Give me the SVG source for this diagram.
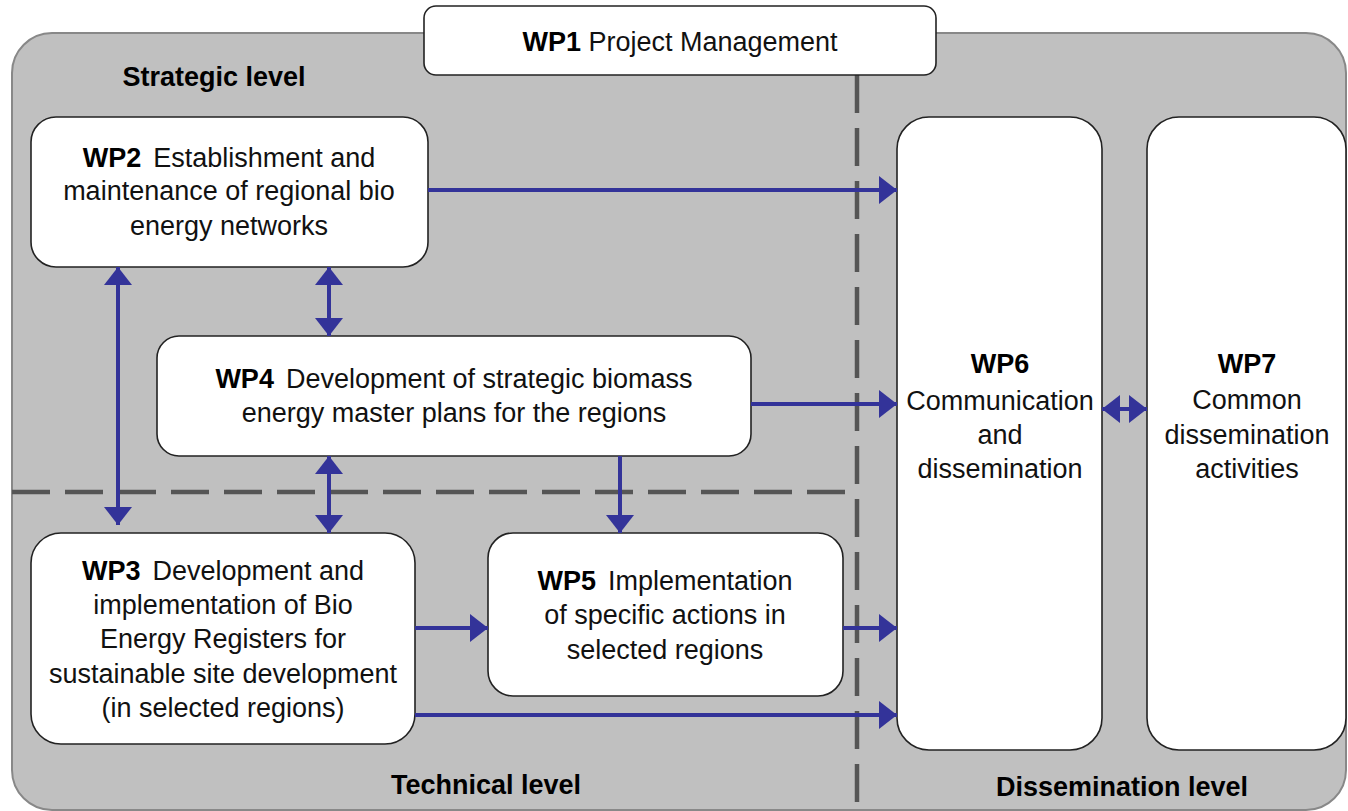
<svg xmlns="http://www.w3.org/2000/svg" width="1348" height="811" viewBox="0 0 1348 811">
<style>
text{font-family:"Liberation Sans",Arial,sans-serif;font-size:27px;fill:#111;text-anchor:middle}
.b{font-weight:bold;fill:#000}
.box{fill:#fff;stroke:#222;stroke-width:1.6}
.dash{stroke:#555;stroke-width:4.5;fill:none;stroke-dasharray:38 15}
.arr{stroke:#333399;stroke-width:4;fill:none}
</style>
<defs>
<marker id="ah" markerUnits="userSpaceOnUse" markerWidth="18" markerHeight="28" refX="18" refY="14" orient="auto-start-reverse" viewBox="0 0 18 28">
<path d="M0,0 L18,14 L0,28 z" fill="#333399"/>
</marker>
</defs>
<rect id="background" x="12" y="33" width="1334" height="777" rx="40" fill="#c0c0c0" stroke="#888" stroke-width="2"/>
<g id="dividers">
<line class="dash" x1="857" y1="75" x2="857" y2="811"/>
<line class="dash" x1="12" y1="492" x2="857" y2="492"/>
</g>
<g id="labels">
<text class="b" x="214" y="86">Strategic level</text>
<text class="b" x="486" y="794">Technical level</text>
<text class="b" x="1122" y="796">Dissemination level</text>
</g>
<g id="wp1">
<rect class="box" x="424" y="6" width="512" height="69" rx="12"/>
<text x="680" y="51"><tspan class="b">WP1</tspan> Project Management</text>
</g>
<g id="wp2">
<rect class="box" x="31" y="117" width="397" height="150" rx="25"/>
<text x="229" y="167"><tspan class="b">WP2</tspan><tspan dx="12">Establishment and</tspan></text>
<text x="229" y="200">maintenance of regional bio</text>
<text x="229" y="235">energy networks</text>
</g>
<g id="wp4">
<rect class="box" x="157" y="336" width="594" height="120" rx="22"/>
<text x="454" y="388"><tspan class="b">WP4</tspan><tspan dx="12">Development of strategic biomass</tspan></text>
<text x="454" y="422">energy master plans for the regions</text>
</g>
<g id="wp3">
<rect class="box" x="31" y="533" width="384" height="211" rx="30"/>
<text x="223" y="580"><tspan class="b">WP3</tspan><tspan dx="12">Development and</tspan></text>
<text x="223" y="614">implementation of Bio</text>
<text x="223" y="648">Energy Registers for</text>
<text x="223" y="683">sustainable site development</text>
<text x="223" y="717">(in selected regions)</text>
</g>
<g id="wp5">
<rect class="box" x="488" y="533" width="355" height="163" rx="25"/>
<text x="665" y="590"><tspan class="b">WP5</tspan><tspan dx="12">Implementation</tspan></text>
<text x="665" y="624">of specific actions in</text>
<text x="665" y="659">selected regions</text>
</g>
<g id="wp6">
<rect class="box" x="897" y="117" width="205" height="633" rx="32"/>
<text class="b" x="1000" y="373">WP6</text>
<text x="1000" y="410">Communication</text>
<text x="1000" y="444">and</text>
<text x="1000" y="478">dissemination</text>
</g>
<g id="wp7">
<rect class="box" x="1147" y="117" width="199" height="633" rx="32"/>
<text class="b" x="1247" y="373">WP7</text>
<text x="1247" y="409">Common</text>
<text x="1247" y="444">dissemination</text>
<text x="1247" y="478">activities</text>
</g>
<g id="connectors">
<line class="arr" x1="428" y1="190" x2="897" y2="190" marker-end="url(#ah)"/>
<line class="arr" x1="751" y1="404" x2="897" y2="404" marker-end="url(#ah)"/>
<line class="arr" x1="843" y1="628" x2="897" y2="628" marker-end="url(#ah)"/>
<line class="arr" x1="415" y1="715" x2="897" y2="715" marker-end="url(#ah)"/>
<line class="arr" x1="415" y1="628" x2="488" y2="628" marker-end="url(#ah)"/>
<line class="arr" x1="118" y1="267" x2="118" y2="525" marker-start="url(#ah)" marker-end="url(#ah)"/>
<line class="arr" x1="329" y1="267" x2="329" y2="336" marker-start="url(#ah)" marker-end="url(#ah)"/>
<line class="arr" x1="329" y1="456" x2="329" y2="533" marker-start="url(#ah)" marker-end="url(#ah)"/>
<line class="arr" x1="620" y1="456" x2="620" y2="533" marker-end="url(#ah)"/>
<line class="arr" x1="1102" y1="409" x2="1147" y2="409" marker-start="url(#ah)" marker-end="url(#ah)"/>
</g>
</svg>
